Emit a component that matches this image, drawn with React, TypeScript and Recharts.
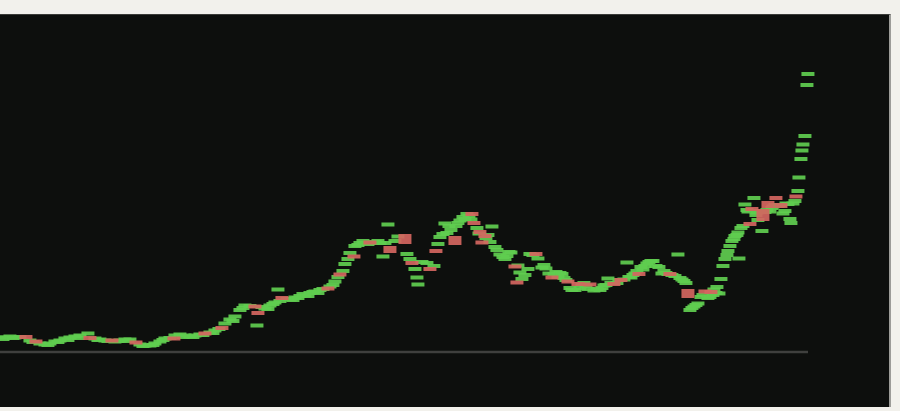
import React from "react";
import { ComposedChart, Bar, XAxis, YAxis, ReferenceLine } from "recharts";

// trading day position, candle open and close
const days = [
  0, 5, 10, 15, 20, 26, 30, 36, 40, 45,
  50, 55, 60, 65, 70, 75, 80, 88, 90, 95,
  100, 105, 112, 115, 120, 125, 130, 136, 140, 145,
  150, 155, 160, 165, 174, 175, 180, 185, 190, 195,
  200, 205, 210, 215, 222, 225, 230, 235, 240, 245,
  250, 255, 257, 258, 265, 270, 275, 278, 280, 282,
  290, 295, 300, 305, 310, 315, 320, 328, 330, 335,
  340, 343, 345, 348, 350, 354, 355, 360, 365, 370,
  375, 380, 383, 385, 388, 390, 395, 398, 405, 407,
  410, 412, 415, 417, 418, 422, 427, 430, 434, 436,
  438, 440, 445, 447, 451, 455, 456, 460, 463, 467,
  471, 472, 474, 479, 480, 482, 485, 486, 490, 492,
  495, 500, 503, 507, 511, 515, 517, 518, 520, 525,
  530, 536, 538, 542, 546, 549, 552, 556, 560, 564,
  568, 572, 575, 578, 582, 586, 590, 594, 600, 604,
  608, 614, 617, 621, 624, 627, 631, 635, 639, 643,
  647, 651, 656, 659, 662, 666, 670, 675, 678, 682,
  686, 688, 690, 694, 698, 701, 705, 708, 711, 714,
  717, 719, 721, 723, 725, 728, 730, 732, 735, 738,
  739, 741, 745, 748, 750, 752, 754, 757, 758, 762,
  763, 765, 768, 770, 773, 776, 778, 781, 783, 786,
  790, 791, 793, 795, 796, 798, 799, 801, 802, 803,
  805, 807, 808,
  // in-between sessions
  3, 13, 33, 48, 58, 68, 78, 98, 108, 118,
  128, 143, 153, 163, 170, 183, 193, 203, 213, 219,
  233, 243, 262, 268, 273, 287, 293, 298, 303, 308,
  313, 318, 323, 333, 338, 358, 363, 368, 373, 378,
  443, 449, 458, 465, 469, 477, 488, 497, 505, 509,
  522, 528, 533, 544, 554, 558, 562, 566, 570, 580,
  584, 588, 597, 602, 606, 611, 619, 629, 633, 637,
  641, 645, 649, 653, 664, 668, 672, 680, 684, 692,
  696, 703, 710, 713, 716, 727, 734, 737, 743, 747,
  756, 760, 767, 772, 775, 780, 785, 788,
];

const opens = [
  14, 14, 15, 14, 14, 16, 11, 11, 8, 7,
  8, 10, 11, 13, 14, 15, 16, 18, 15, 13,
  12, 11, 12, 10, 11, 12, 12, 10, 7, 6,
  6, 8, 10, 13, 14, 16, 17, 16, 15, 16,
  17, 19, 19, 21, 25, 28, 32, 35, 41, 46,
  45, 47, 26, 40, 43, 46, 49, 62, 50, 55,
  52, 54, 55, 56, 58, 60, 61, 64, 65, 70,
  79, 80, 87, 92, 98, 96, 105, 108, 108, 110,
  109, 108, 95, 108, 127, 106, 110, 115, 118, 97,
  92, 90, 82, 74, 67, 89, 88, 84, 85, 102,
  107, 114, 128, 118, 121, 116, 125, 130, 134, 137,
  131, 139, 130, 117, 121, 111, 118, 113, 109, 125,
  104, 96, 94, 95, 98, 87, 70, 85, 79, 76,
  97, 99, 93, 83, 83, 78, 75, 79, 78, 73,
  72, 60, 61, 69, 66, 65, 68, 60, 61, 65,
  73, 69, 68, 73, 71, 89, 73, 77, 79, 81,
  87, 90, 85, 84, 77, 78, 79, 75, 97, 71,
  68, 63, 41, 44, 47, 53, 62, 52, 61, 61,
  64, 57, 72, 85, 91, 100, 105, 110, 114, 118,
  93, 122, 146, 139, 129, 144, 153, 138, 130, 120,
  143, 139, 151, 139, 144, 155, 144, 149, 137, 147,
  132, 128, 147, 150, 156, 159, 173, 191, 200, 206,
  214, 266, 277,
  12, 13, 9, 6, 9, 11, 13, 11, 10, 10,
  10, 5, 6, 11, 13, 14, 14, 16, 18, 22,
  30, 43, 44, 42, 47, 52, 51, 53, 57, 55,
  59, 58, 62, 66, 74, 106, 110, 107, 108, 110,
  117, 125, 128, 132, 135, 123, 116, 101, 92, 99,
  72, 82, 96, 86, 77, 74, 77, 71, 63, 63,
  68, 62, 62, 63, 66, 68, 71, 74, 76, 80,
  84, 85, 89, 90, 80, 77, 76, 73, 70, 43,
  46, 56, 54, 56, 58, 96, 112, 116, 125, 141,
  136, 140, 141, 143, 146, 146, 140, 147,
];

const closes = [
  15, 15, 16, 15, 16, 14, 12, 10, 9, 8,
  9, 11, 12, 14, 15, 16, 17, 19, 13, 14,
  13, 12, 11, 11, 12, 13, 13, 9, 8, 7,
  7, 9, 11, 14, 13, 17, 18, 17, 16, 17,
  18, 18, 20, 22, 23, 29, 33, 36, 43, 47,
  47, 44, 27, 38, 44, 47, 50, 63, 52, 53,
  53, 55, 57, 57, 60, 61, 63, 63, 66, 71,
  76, 82, 89, 94, 100, 95, 107, 110, 110, 109,
  111, 110, 96, 110, 128, 99, 112, 116, 108, 99,
  94, 88, 84, 75, 68, 91, 90, 82, 87, 100,
  109, 116, 129, 120, 123, 107, 127, 133, 136, 139,
  134, 137, 128, 120, 119, 108, 114, 115, 111, 126,
  106, 99, 96, 97, 101, 84, 69, 88, 80, 78,
  99, 97, 94, 86, 84, 79, 74, 81, 80, 75,
  69, 64, 63, 67, 69, 67, 67, 63, 63, 68,
  74, 67, 70, 71, 74, 90, 76, 80, 77, 84,
  90, 92, 87, 86, 80, 80, 77, 77, 98, 74,
  70, 54, 43, 47, 50, 57, 59, 56, 59, 64,
  66, 60, 74, 87, 95, 102, 107, 112, 118, 121,
  94, 126, 149, 142, 127, 142, 155, 141, 134, 122,
  131, 141, 144, 142, 147, 153, 148, 144, 140, 150,
  134, 130, 150, 152, 155, 163, 176, 195, 203, 209,
  218, 268, 279,
  14, 15, 11, 8, 11, 13, 15, 13, 12, 12,
  12, 7, 8, 13, 15, 16, 16, 18, 20, 24,
  32, 45, 46, 44, 49, 54, 53, 55, 59, 57,
  61, 60, 64, 68, 76, 108, 112, 109, 110, 112,
  119, 127, 130, 134, 137, 125, 118, 103, 94, 101,
  74, 84, 98, 88, 79, 76, 79, 73, 65, 65,
  70, 64, 64, 65, 68, 70, 73, 76, 78, 82,
  86, 87, 91, 92, 82, 79, 78, 75, 72, 45,
  48, 58, 56, 58, 60, 98, 114, 118, 127, 143,
  138, 142, 143, 145, 148, 148, 142, 149,
];

const UP = "#5fcd4f";
const DOWN = "#d4665f";

const rows = days.map((day, i) => ({
  day,
  body: [Math.min(opens[i], closes[i]), Math.max(opens[i], closes[i])],
  up: closes[i] >= opens[i],
}));
// falling candles painted last so they stay visible
const candles = [...rows.filter((r) => r.up), ...rows.filter((r) => !r.up)];

// wide, flat candle body centred on the bar the library places
const Candle = (props: any) => {
  const { x, y, width, height, payload } = props;
  if (x == null || y == null || isNaN(x) || isNaN(y)) return null;
  const cx = x + (width || 0) / 2;
  const h0 = Math.abs(height || 0);
  const top = Math.min(y, y + (height || 0));
  const h = Math.max(h0, 4);
  const mid = top + h0 / 2;
  return (
    <rect
      x={cx - 6.5}
      y={mid - h / 2}
      width={13}
      height={h}
      fill={payload && payload.up ? UP : DOWN}
      fillOpacity={0.92}
    />
  );
};

export default function App() {
  return (
    <div
      style={{
        position: "absolute",
        left: 0,
        top: 0,
        width: 900,
        height: 411,
        background: "#f2f1ec",
        overflow: "hidden",
      }}
    >
      <div
        style={{
          position: "absolute",
          left: 0,
          top: 14,
          width: 889,
          height: 392,
          background: "#0d0f0d",
          borderTop: "1px solid #3a3b38",
          borderRight: "2px solid #9c9c98",
        }}
      >
        <ComposedChart
          width={889}
          height={392}
          data={candles}
          margin={{ top: 57, right: 81, bottom: 55, left: 0 }}
        >
          <XAxis
            dataKey="day"
            type="number"
            domain={[0, 808]}
            hide
          />
          <YAxis hide type="number" domain={[0, 280]} allowDataOverflow />
          <ReferenceLine y={0} stroke="#3f403e" strokeWidth={2.5} />
          <Bar
            dataKey="body"
            barSize={12}
            shape={<Candle />}
            isAnimationActive={false}
          />
        </ComposedChart>
      </div>
    </div>
  );
}
